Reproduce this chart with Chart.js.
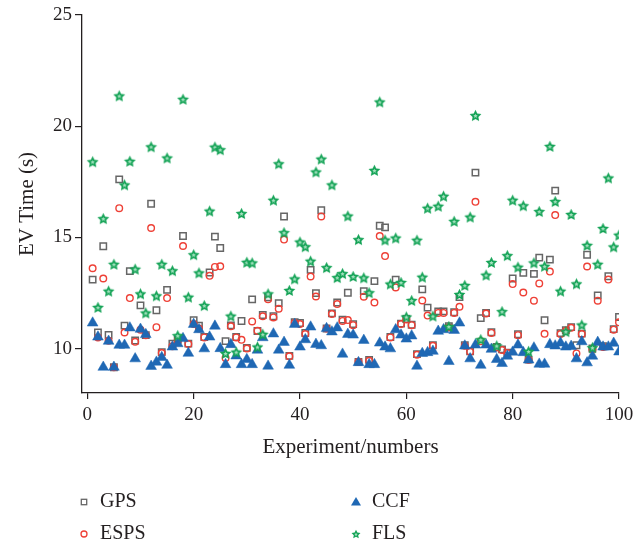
<!DOCTYPE html>
<html>
<head>
<meta charset="utf-8">
<script src="https://cdn.jsdelivr.net/npm/chart.js@4.4.1/dist/chart.umd.min.js"></script>
<style>
    html, body { margin: 0; padding: 0; background: #fff; }
</style>
</head>
<body>
<canvas id="evChart" width="634" height="548"></canvas>
<script>
// experiment index on the x axis
const experiments = [
    1, 2, 3, 4, 5, 6, 7, 8, 9, 10, 11, 12, 13, 14, 15, 16, 17, 18, 19, 20,
    21, 22, 23, 24, 25, 26, 27, 28, 29, 30, 31, 32, 33, 34, 35, 36, 37, 38, 39, 40,
    41, 42, 43, 44, 45, 46, 47, 48, 49, 50, 51, 52, 53, 54, 55, 56, 57, 58, 59, 60,
    61, 62, 63, 64, 65, 66, 67, 68, 69, 70, 71, 72, 73, 74, 75, 76, 77, 78, 79, 80,
    81, 82, 83, 84, 85, 86, 87, 88, 89, 90, 91, 92, 93, 94, 95, 96, 97, 98, 99, 100,
];

const gpsTimes = [
    13.1, 10.72, 14.6, 10.61, 9.16, 17.61, 11.03, 13.48, 10.36, 11.94,
    10.6, 16.51, 11.72, 9.84, 12.64, 10.22, 10.39, 15.06, 10.22, 11.28,
    11.03, 10.52, 13.42, 15.03, 14.52, 10.33, 11.04, 10.52, 11.24, 10.03,
    12.21, 10.79, 11.51, 12.3, 11.45, 12.04, 15.94, 9.67, 11.18, 11.15,
    10.7, 13.54, 12.49, 16.22, 10.9, 11.58, 12.07, 11.3, 12.51, 11.1,
    9.4, 12.58, 9.49, 13.03, 15.52, 15.45, 10.52, 13.1, 11.12, 11.33,
    11.07, 9.75, 12.66, 11.84, 10.15, 11.67, 11.67, 11.0, 11.63, 12.31,
    10.15, 9.88, 17.91, 11.37, 11.6, 10.73, 10.07, 9.96, 9.81, 13.15,
    10.64, 13.4, 9.5, 13.36, 14.09, 11.27, 14.0, 17.1, 10.69, 10.82,
    10.96, 10.15, 10.67, 14.22, 10.0, 12.39, 10.1, 13.25, 10.87, 11.42,
];

const espsTimes = [
    13.61, 10.5, 13.15, 10.35, 9.16, 16.31, 10.72, 12.27, 10.3, 10.85,
    10.6, 15.42, 10.96, 9.8, 12.27, 10.1, 10.35, 14.61, 10.2, 11.1,
    10.9, 10.5, 13.27, 13.67, 13.7, 9.57, 11.0, 10.5, 10.39, 10.0,
    11.22, 10.8, 11.45, 12.22, 11.4, 11.79, 14.9, 9.65, 11.15, 11.1,
    10.65, 13.24, 12.34, 15.94, 10.9, 11.55, 12.0, 11.24, 11.28, 11.05,
    9.4, 12.33, 9.45, 12.07, 15.06, 14.16, 10.5, 12.75, 11.1, 11.3,
    11.05, 9.72, 12.16, 11.48, 10.12, 11.6, 11.6, 10.95, 11.6, 11.88,
    10.12, 9.85, 16.6, 10.33, 11.57, 10.7, 10.05, 9.93, 9.8, 12.9,
    10.6, 12.52, 9.49, 12.15, 12.93, 10.66, 13.46, 16.0, 10.65, 10.8,
    10.93, 9.78, 10.65, 13.69, 9.97, 12.15, 10.07, 13.1, 10.85, 11.18,
];

const ccfTimes = [
    11.15, 10.52, 9.16, 10.33, 9.16, 10.15, 10.15, 10.93, 9.54, 10.87,
    10.63, 9.2, 9.39, 9.6, 9.25, 10.07, 10.22, 10.45, 9.79, 11.09,
    10.85, 9.99, 10.52, 11.01, 10.0, 9.28, 10.18, 9.67, 9.28, 9.51,
    9.28, 9.93, 10.49, 9.21, 10.66, 9.93, 10.28, 9.25, 11.09, 10.07,
    10.4, 10.97, 10.19, 10.13, 10.9, 10.75, 10.93, 9.75, 10.64, 10.61,
    9.37, 10.37, 9.28, 9.28, 10.25, 10.07, 9.99, 10.85, 10.61, 10.43,
    10.57, 9.21, 9.78, 9.82, 9.88, 10.78, 10.85, 9.42, 10.82, 11.15,
    10.12, 9.54, 10.16, 9.25, 10.16, 9.97, 9.51, 9.33, 9.66, 9.84,
    10.16, 9.82, 9.49, 10.03, 9.3, 9.3, 10.18, 10.12, 10.25, 10.07,
    10.1, 9.54, 10.31, 9.36, 9.66, 10.28, 10.07, 10.07, 10.24, 9.85,
];

const flsTimes = [
    18.4, 11.85, 15.84, 12.58, 13.79, 21.36, 17.36, 18.42, 13.57, 12.46,
    11.6, 19.07, 12.37, 13.79, 18.57, 13.5, 10.58, 21.21, 12.31, 14.22,
    13.4, 11.93, 16.18, 19.06, 18.94, 9.78, 11.46, 9.84, 16.07, 13.88,
    13.85, 10.07, 10.64, 12.46, 16.67, 18.31, 15.21, 12.61, 13.13, 14.79,
    14.58, 13.93, 17.94, 18.52, 13.64, 17.36, 13.19, 13.37, 15.96, 13.24,
    14.9, 13.18, 12.51, 18.01, 21.09, 14.88, 12.9, 14.97, 12.97, 11.42,
    12.16, 14.87, 13.21, 16.31, 11.46, 16.4, 16.85, 10.99, 15.72, 12.43,
    12.84, 15.91, 20.48, 10.4, 13.3, 13.87, 10.12, 11.66, 14.18, 16.67,
    13.66, 16.42, 9.87, 13.85, 16.16, 13.7, 19.09, 16.61, 12.58, 10.76,
    16.03, 12.91, 11.06, 14.64, 10.04, 13.79, 15.4, 17.67, 14.57, 15.1,
];

const seriesNames = ['GPS', 'ESPS', 'CCF', 'FLS'];
const xTicks = [0, 20, 40, 60, 80, 100];
const yTicks = [10, 15, 20, 25];

const FONT = "'Liberation Serif', 'DejaVu Serif', serif";
const TEXT = '#231f20';

function makeStar(size) {
    const c = document.createElement('canvas');
    c.width = size;
    c.height = size;
    const g = c.getContext('2d');
    const drawStar = (outer, inner, fill) => {
        g.beginPath();
        for (let k = 0; k < 10; k += 1) {
            const rad = k % 2 === 0 ? outer : inner;
            const a = -Math.PI / 2 + (k * Math.PI) / 5;
            g.lineTo(size / 2 + rad * Math.cos(a), size / 2 + 0.5 + rad * Math.sin(a));
        }
        g.closePath();
        g.fillStyle = fill;
        g.fill();
    };
    drawStar(size / 2 - 0.3, size / 4.3, '#14a356');
    drawStar(size / 5.5, size / 12, '#a6e2c0');
    return c;
}

const starBig = makeStar(13);
const starSmall = makeStar(10);

function toPoints(values) {
    return values.map((v, i) => ({ x: experiments[i], y: v }));
}

const legendPlugin = {
    id: 'gridLegend',
    afterDraw(chart) {
        const ctx = chart.ctx;
        const cols = [84, 356];
        const rows = [502, 534];
        ctx.save();
        ctx.font = `20px ${FONT}`;
        ctx.fillStyle = TEXT;
        ctx.textBaseline = 'middle';
        seriesNames.forEach((name, i) => {
            const x = cols[Math.floor(i / 2)];
            const y = rows[i % 2];
            ctx.save();
            if (name === 'GPS') {
                ctx.strokeStyle = '#666666';
                ctx.lineWidth = 1.3;
                ctx.strokeRect(x - 2.7, y - 2.7, 5.4, 5.4);
            } else if (name === 'ESPS') {
                ctx.strokeStyle = '#ee4036';
                ctx.lineWidth = 1.3;
                ctx.beginPath();
                ctx.arc(x, y, 3, 0, Math.PI * 2);
                ctx.stroke();
            } else if (name === 'CCF') {
                ctx.fillStyle = '#1f68b4';
                ctx.beginPath();
                ctx.moveTo(x, y - 5);
                ctx.lineTo(x + 5, y + 3.5);
                ctx.lineTo(x - 5, y + 3.5);
                ctx.closePath();
                ctx.fill();
            } else {
                ctx.drawImage(starSmall, x - 5, y - 5);
            }
            ctx.restore();
            ctx.fillText(name, x + 16, y);
        });
        ctx.restore();
    },
};

new Chart(document.getElementById('evChart'), {
    type: 'scatter',
    data: {
        datasets: [
            {
                label: 'GPS',
                data: toPoints(gpsTimes),
                pointStyle: 'rect',
                pointRadius: 4.5,
                borderColor: '#666666',
                backgroundColor: 'rgba(0,0,0,0)',
                borderWidth: 1.5,
                order: 4,
            },
            {
                label: 'ESPS',
                data: toPoints(espsTimes),
                pointStyle: 'circle',
                pointRadius: 3.3,
                borderColor: '#ee4036',
                backgroundColor: 'rgba(0,0,0,0)',
                borderWidth: 1.4,
                order: 3,
            },
            {
                label: 'CCF',
                data: toPoints(ccfTimes),
                pointStyle: 'triangle',
                pointRadius: 6.2,
                borderColor: '#1f68b4',
                backgroundColor: '#1f68b4',
                borderWidth: 0.5,
                order: 2,
            },
            {
                label: 'FLS',
                data: toPoints(flsTimes),
                pointStyle: starBig,
                order: 1,
            },
        ],
    },
    options: {
        responsive: false,
        animation: false,
        devicePixelRatio: 1,
        layout: { padding: { left: 0, right: 15, top: 15, bottom: 85 } },
        plugins: {
            legend: { display: false },
            tooltip: { enabled: false },
        },
        scales: {
            x: {
                type: 'linear',
                min: -1,
                max: 100,
                afterBuildTicks: (axis) => { axis.ticks = xTicks.map((v) => ({ value: v })); },
                afterFit: (axis) => {
                    axis.height = 70;
                    axis.paddingLeft = 0;
                    axis.paddingRight = 0;
                },
                grid: { drawOnChartArea: false, drawTicks: true, tickLength: 6, color: '#231f20', lineWidth: 1.2 },
                border: { display: true, color: '#231f20', width: 1.3 },
                ticks: { color: TEXT, padding: 5, font: { family: FONT, size: 19 }, maxRotation: 0 },
                title: {
                    display: true,
                    text: 'Experiment/numbers',
                    color: TEXT,
                    font: { family: FONT, size: 21 },
                    padding: { top: 0, bottom: 3 },
                },
            },
            y: {
                type: 'linear',
                min: 8,
                max: 25,
                afterBuildTicks: (axis) => { axis.ticks = yTicks.map((v) => ({ value: v })); },
                afterFit: (axis) => {
                    axis.width = 82;
                    axis.paddingTop = 0;
                    axis.paddingBottom = 0;
                },
                grid: { drawOnChartArea: false, drawTicks: true, tickLength: 7, color: '#231f20', lineWidth: 1.2 },
                border: { display: true, color: '#231f20', width: 1.3 },
                ticks: { color: TEXT, padding: 3, font: { family: FONT, size: 19 } },
                title: {
                    display: true,
                    text: 'EV Time (s)',
                    color: TEXT,
                    font: { family: FONT, size: 21 },
                    padding: { top: 15, bottom: 0 },
                },
            },
        },
    },
    plugins: [legendPlugin],
});
</script>
</body>
</html>
